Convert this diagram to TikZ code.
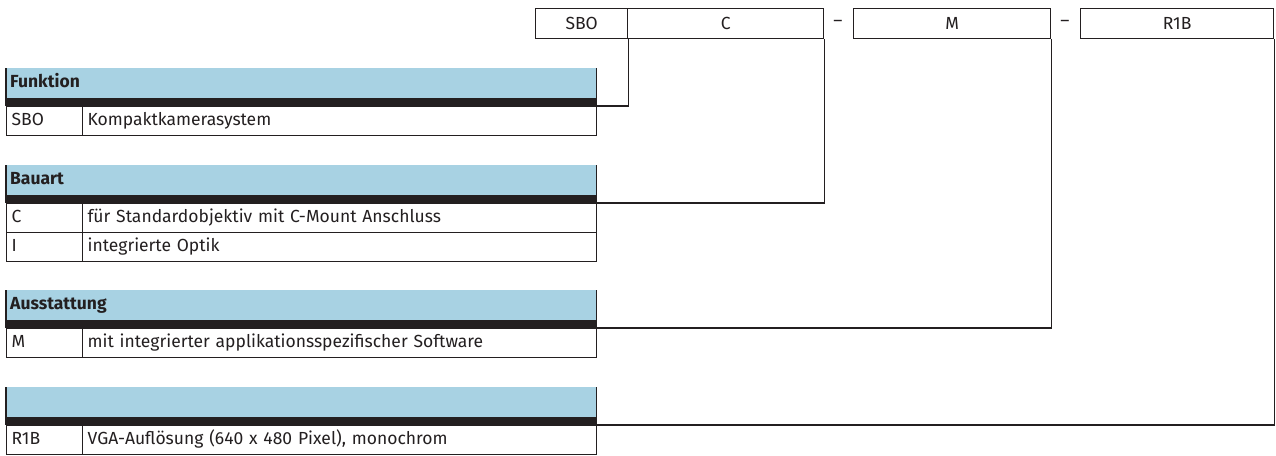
\documentclass[tikz,border=0pt]{standalone}
\usepackage{fontspec}
\setmainfont{Fira Sans}
\definecolor{headblue}{RGB}{168,210,227}
\definecolor{bardark}{RGB}{35,31,32}

\tikzset{
	every node/.style={font=\fontsize{17.5pt}{21pt}\selectfont, text=bardark},
	codebox/.style={draw=bardark, line width=1.3pt, minimum height=30pt, inner sep=0pt, anchor=north west},
	headcell/.style={fill=headblue, minimum width=590pt, minimum height=30pt, text width=582pt, inner xsep=4pt, inner ysep=0pt, text height=12.5pt, text depth=3.5pt, align=left, anchor=north west, font=\fontsize{17.5pt}{21pt}\selectfont\bfseries},
	darkbar/.style={fill=bardark, minimum width=590pt, minimum height=7.5pt, inner sep=0pt, anchor=north west},
	keycell/.style={draw=bardark, line width=1.2pt, minimum width=76pt, minimum height=29pt, text width=66pt, inner xsep=5pt, inner ysep=0pt, text height=12.5pt, text depth=3.5pt, align=left, anchor=north west},
	desccell/.style={keycell, minimum width=514pt, text width=504pt},
	link/.style={draw=bardark, line width=1.3pt}
}

\begin{document}
\begin{tikzpicture}[x=1pt, y=-1pt]
			\useasboundingbox (0,0) rectangle (1276,455);
			
			% Draw the type code boxes
			\node[codebox, minimum width=92pt] (sbo) at (535,8) {SBO};
			\node[codebox, minimum width=196pt] (c) at (627,8) {C};
			\node[codebox, minimum width=197pt] (m) at (853,8) {M};
			\node[codebox, minimum width=193pt] (r1b) at (1080,8) {R1B};
			\node (dash1) at (838,23) {--};
			\node (dash2) at (1065,23) {--};
			
			% Funktion table
			\node[headcell] (funktion) at (6,68) {Funktion};
			\node[darkbar] (funktionbar) at (6,98) {};
			\node[keycell] (k1) at (6,105.5) {SBO};
			\node[desccell] (d1) at (82,105.5) {Kompaktkamerasystem};
			\draw[bardark, line width=1.2pt] (funktion.north west) -- (funktionbar.south west) (funktion.north east) -- (funktionbar.south east);
			
			% Bauart table
			\node[headcell] (bauart) at (6,165) {Bauart};
			\node[darkbar] (bauartbar) at (6,195) {};
			\node[keycell] (k2) at (6,202.5) {C};
			\node[desccell] (d2) at (82,202.5) {für Standardobjektiv mit C-Mount Anschluss};
			\node[keycell] (k3) at (6,231.5) {I};
			\node[desccell] (d3) at (82,231.5) {integrierte Optik};
			\draw[bardark, line width=1.2pt] (bauart.north west) -- (bauartbar.south west) (bauart.north east) -- (bauartbar.south east);
			
			% Ausstattung table
			\node[headcell] (ausstattung) at (6,290) {Ausstattung};
			\node[darkbar] (ausstattungbar) at (6,320) {};
			\node[keycell] (k4) at (6,327.5) {M};
			\node[desccell] (d4) at (82,327.5) {mit integrierter applikationsspezifischer Software};
			\draw[bardark, line width=1.2pt] (ausstattung.north west) -- (ausstattungbar.south west) (ausstattung.north east) -- (ausstattungbar.south east);
			
			% Last table, empty head
			\node[headcell] (leer) at (6,387) {};
			\node[darkbar] (leerbar) at (6,417) {};
			\node[keycell] (k5) at (6,424.5) {R1B};
			\node[desccell] (d5) at (82,424.5) {VGA-Auflösung (640 x 480 Pixel), monochrom};
			\draw[bardark, line width=1.2pt] (leer.north west) -- (leerbar.south west) (leer.north east) -- (leerbar.south east);
			
			% Connect the code boxes to the tables
			\draw[link] (sbo.south east) |- (funktionbar.south east);
			\draw[link] (c.south east) |- (bauartbar.south east);
			\draw[link] (m.south east) |- (ausstattungbar.south east);
			\draw[link] (r1b.south east) |- (leerbar.south east);
		\end{tikzpicture}
\end{document}
